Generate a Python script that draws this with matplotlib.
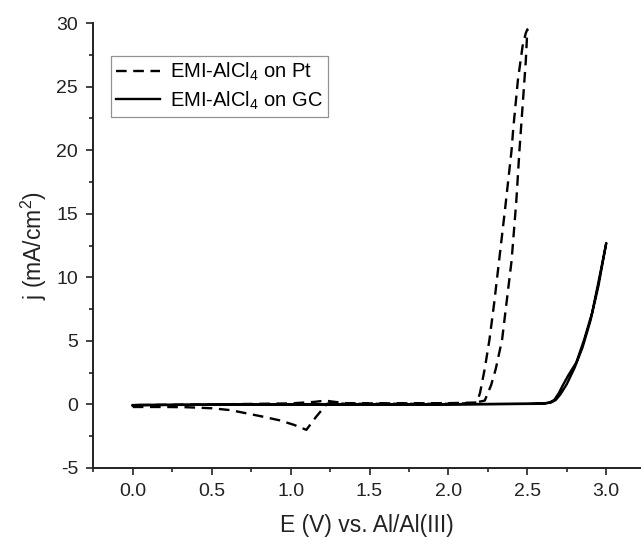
import matplotlib
matplotlib.use("Agg")
import matplotlib.pyplot as plt
from matplotlib.ticker import MultipleLocator

plt.rcParams['font.family'] = ['Liberation Sans', 'DejaVu Sans']
plt.rcParams['mathtext.fontset'] = 'custom'
plt.rcParams['mathtext.rm'] = 'Liberation Sans'
plt.rcParams['mathtext.it'] = 'Liberation Sans'
plt.rcParams['mathtext.default'] = 'regular'

# ---- data ----
pt_E = [0.00, 0.10, 0.20, 0.34, 0.50, 0.62, 0.72, 0.82, 0.93, 1.02, 1.10, 1.16, 1.23,
        1.27, 1.35, 1.50, 1.80, 2.00, 2.15, 2.23, 2.27, 2.30, 2.34, 2.37, 2.40, 2.43,
        2.45, 2.47, 2.49, 2.50,
        2.49, 2.47, 2.44, 2.41, 2.40, 2.36, 2.32, 2.29, 2.26, 2.23, 2.20, 2.18,
        2.00, 1.50, 1.35, 1.28, 1.22, 1.15, 1.00, 0.50, 0.02, 0.00]
pt_j = [-0.20, -0.20, -0.20, -0.22, -0.30, -0.45, -0.70, -0.95, -1.25, -1.60, -2.00, -1.00, 0.05,
        0.10, 0.05, 0.05, 0.05, 0.05, 0.10, 0.30, 1.50, 2.80, 5.10, 8.20, 11.30, 16.00,
        20.00, 23.50, 27.00, 29.50,
        29.20, 28.20, 25.50, 21.60, 20.00, 15.50, 11.20, 8.00, 5.10, 2.80, 0.90, 0.15,
        0.10, 0.08, 0.10, 0.20, 0.30, 0.20, 0.08, 0.00, -0.05, -0.20]

gc_E = [0.00, 0.02, 0.50, 1.00, 1.50, 2.00, 2.50, 2.60, 2.64, 2.67, 2.70, 2.72, 2.76,
        2.81, 2.86, 2.91, 2.95, 3.00,
        2.95, 2.90, 2.85, 2.80, 2.75, 2.71, 2.68, 2.65, 2.60, 2.00, 1.00, 0.00]
gc_j = [-0.10, -0.05, -0.02, 0.00, 0.00, 0.02, 0.05, 0.08, 0.15, 0.35, 0.90, 1.40, 2.30,
        3.30, 5.10, 7.20, 9.60, 12.70,
        9.30, 6.60, 4.50, 2.90, 1.60, 0.80, 0.35, 0.15, 0.05, 0.00, 0.00, -0.05]

labels = [r'EMI-AlCl$_4$ on Pt', r'EMI-AlCl$_4$ on GC']
xlabel = 'E (V) vs. Al/Al(III)'
ylabel = r'j (mA/cm$^2$)'

# ---- figure ----
W, H = 641, 537
fig = plt.figure(figsize=(W / 100, H / 100), dpi=100)
left, right, bottom, top = 93.3, 641, 468, 23
ax = fig.add_axes([left / W, (H - bottom) / H, (right - left) / W, (bottom - top) / H])

dash = (0, (4.5, 2.8))
ax.plot(pt_E, pt_j, color='black', lw=1.7, linestyle=dash, label=labels[0])
ax.plot(gc_E, gc_j, color='black', lw=1.7, linestyle='-', label=labels[1])

ax.set_xlim(-0.25, 3.22)
ax.set_ylim(-5, 30)
ax.xaxis.set_major_locator(MultipleLocator(0.5))
ax.xaxis.set_minor_locator(MultipleLocator(0.25))
ax.yaxis.set_major_locator(MultipleLocator(5))
ax.yaxis.set_minor_locator(MultipleLocator(2.5))
ax.xaxis.set_major_formatter(matplotlib.ticker.FormatStrFormatter('%.1f'))
ax.yaxis.set_major_formatter(matplotlib.ticker.FormatStrFormatter('%d'))

for s in ['top', 'right']:
    ax.spines[s].set_visible(False)
for s in ['left', 'bottom']:
    ax.spines[s].set_linewidth(1.4)
    ax.spines[s].set_color('#222222')

ax.tick_params(which='major', direction='out', length=5, width=1.2, colors='#222222',
               labelsize=14, labelcolor='#222222', pad=6)
ax.tick_params(which='minor', direction='out', length=3, width=1.2, colors='#222222')

ax.set_xlabel(xlabel, fontsize=16.5, color='#222222', labelpad=10)
ax.set_ylabel(ylabel, fontsize=16.5, color='#222222', labelpad=5)

leg = ax.legend(loc='upper left', bbox_to_anchor=(0.032, 0.926), borderaxespad=0,
                fontsize=14.5, frameon=True, fancybox=False, edgecolor='#777777',
                handlelength=2.2, handletextpad=0.5, borderpad=0.25, labelspacing=0.3)
leg.get_frame().set_linewidth(0.9)

fig.savefig('out.png', dpi=100)
